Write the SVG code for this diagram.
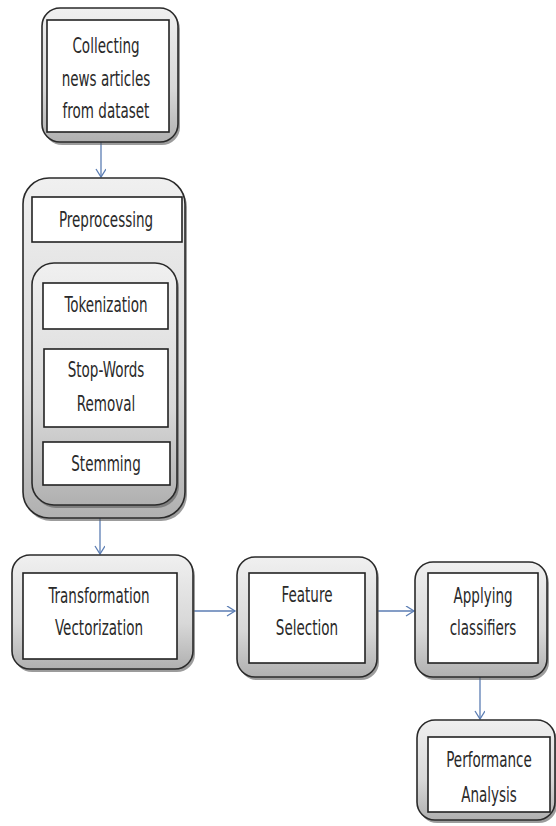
<svg xmlns="http://www.w3.org/2000/svg" width="556" height="826" viewBox="0 0 556 826">
  <style>
    .frame { fill: url(#bevel); stroke: #2a2a2a; stroke-width: 1.6; }
    .shade { fill: #5a5a5a; opacity: 0.6; }
    .box { fill: #ffffff; stroke: #222222; stroke-width: 1.6; }
    .lbl { font-family: "DejaVu Sans Condensed", "Liberation Sans Narrow", "Liberation Sans", sans-serif; font-size: 15.5px; fill: #2a2a2a; text-anchor: middle; }
    .link { fill: none; stroke: #5b7db3; stroke-width: 1.3; }
  </style>
  <defs>
    <linearGradient id="bevel" x1="0" y1="0" x2="0" y2="1">
      <stop offset="0" stop-color="#f0f0f0"/>
      <stop offset="0.6" stop-color="#d8d8d8"/>
      <stop offset="1" stop-color="#b0b0b0"/>
    </linearGradient>
    <marker id="chev" markerWidth="12" markerHeight="12" refX="9" refY="5" orient="auto" markerUnits="userSpaceOnUse">
      <path d="M1,0 L9,5 L1,10" fill="none" stroke="#5b7db3" stroke-width="1.3"/>
    </marker>
  </defs>

  <rect width="556" height="826" fill="#ffffff"/>

  <!-- connectors -->
  <g id="connectors">
    <line class="link" x1="101" y1="142" x2="101" y2="177" marker-end="url(#chev)"/>
    <line class="link" x1="100" y1="263" x2="100" y2="243" marker-end="url(#chev)"/>
    <line class="link" x1="100" y1="349" x2="100" y2="330" marker-end="url(#chev)"/>
    <line class="link" x1="100" y1="442" x2="100" y2="428" marker-end="url(#chev)"/>
    <line class="link" x1="100" y1="518" x2="100" y2="554" marker-end="url(#chev)"/>
    <line class="link" x1="194" y1="611" x2="235" y2="611" marker-end="url(#chev)"/>
    <line class="link" x1="378" y1="611" x2="414" y2="611" marker-end="url(#chev)"/>
    <line class="link" x1="480" y1="677" x2="480" y2="719" marker-end="url(#chev)"/>
  </g>

  <!-- Collecting -->
  <g id="collect">
    <rect class="shade" x="44" y="11" width="136" height="134" rx="18"/>
    <rect class="frame" x="42" y="8" width="136" height="134" rx="18"/>
    <rect class="box" x="47" y="20" width="122" height="112"/>
    <text class="lbl" transform="translate(106,53) scale(0.97,1.35)">Collecting</text>
    <text class="lbl" transform="translate(106,86) scale(0.97,1.35)">news articles</text>
    <text class="lbl" transform="translate(106,118) scale(0.97,1.35)">from dataset</text>
  </g>

  <!-- Preprocessing group -->
  <g id="preprocessing">
    <rect class="shade" x="25" y="181" width="162" height="340" rx="26"/>
    <rect class="frame" x="23" y="178" width="162" height="340" rx="26"/>
    <rect class="box" x="32" y="197" width="150" height="45"/>
    <text class="lbl" transform="translate(106,227) scale(0.97,1.35)">Preprocessing</text>
  </g>

  <g id="steps">
    <rect class="shade" x="34" y="266" width="145" height="242" rx="22"/>
    <rect class="frame" x="32" y="263" width="145" height="242" rx="22"/>
  </g>

  <g id="tokenization">
    <rect class="box" x="43" y="283" width="125" height="46"/>
    <text class="lbl" transform="translate(106,312) scale(0.97,1.35)">Tokenization</text>
  </g>

  <g id="stopwords">
    <rect class="box" x="44" y="349" width="124" height="78"/>
    <text class="lbl" transform="translate(106,377) scale(0.97,1.35)">Stop-Words</text>
    <text class="lbl" transform="translate(106,411) scale(0.97,1.35)">Removal</text>
  </g>

  <g id="stemming">
    <rect class="box" x="43" y="442" width="127" height="43"/>
    <text class="lbl" transform="translate(106,471) scale(0.97,1.35)">Stemming</text>
  </g>

  <!-- Transformation -->
  <g id="transform">
    <rect class="shade" x="14" y="558" width="181" height="114" rx="18"/>
    <rect class="frame" x="12" y="555" width="181" height="114" rx="18"/>
    <rect class="box" x="23" y="573" width="154" height="86"/>
    <text class="lbl" transform="translate(99,603) scale(0.97,1.35)">Transformation</text>
    <text class="lbl" transform="translate(99,635) scale(0.97,1.35)">Vectorization</text>
  </g>

  <!-- Feature Selection -->
  <g id="feature">
    <rect class="shade" x="239" y="560" width="140" height="120" rx="18"/>
    <rect class="frame" x="237" y="557" width="140" height="120" rx="18"/>
    <rect class="box" x="249" y="573" width="116" height="90"/>
    <text class="lbl" transform="translate(307,602) scale(0.97,1.35)">Feature</text>
    <text class="lbl" transform="translate(307,635) scale(0.97,1.35)">Selection</text>
  </g>

  <!-- Applying classifiers -->
  <g id="classify">
    <rect class="shade" x="417" y="565" width="132" height="115" rx="18"/>
    <rect class="frame" x="415" y="562" width="132" height="115" rx="18"/>
    <rect class="box" x="428" y="573" width="110" height="90"/>
    <text class="lbl" transform="translate(483,603) scale(0.97,1.35)">Applying</text>
    <text class="lbl" transform="translate(483,635) scale(0.97,1.35)">classifiers</text>
  </g>

  <!-- Performance Analysis -->
  <g id="performance">
    <rect class="shade" x="419" y="723" width="138" height="100" rx="18"/>
    <rect class="frame" x="417" y="720" width="138" height="100" rx="18"/>
    <rect class="box" x="428" y="737" width="122" height="75"/>
    <text class="lbl" transform="translate(489,767) scale(0.97,1.35)">Performance</text>
    <text class="lbl" transform="translate(489,802) scale(0.97,1.35)">Analysis</text>
  </g>
</svg>
